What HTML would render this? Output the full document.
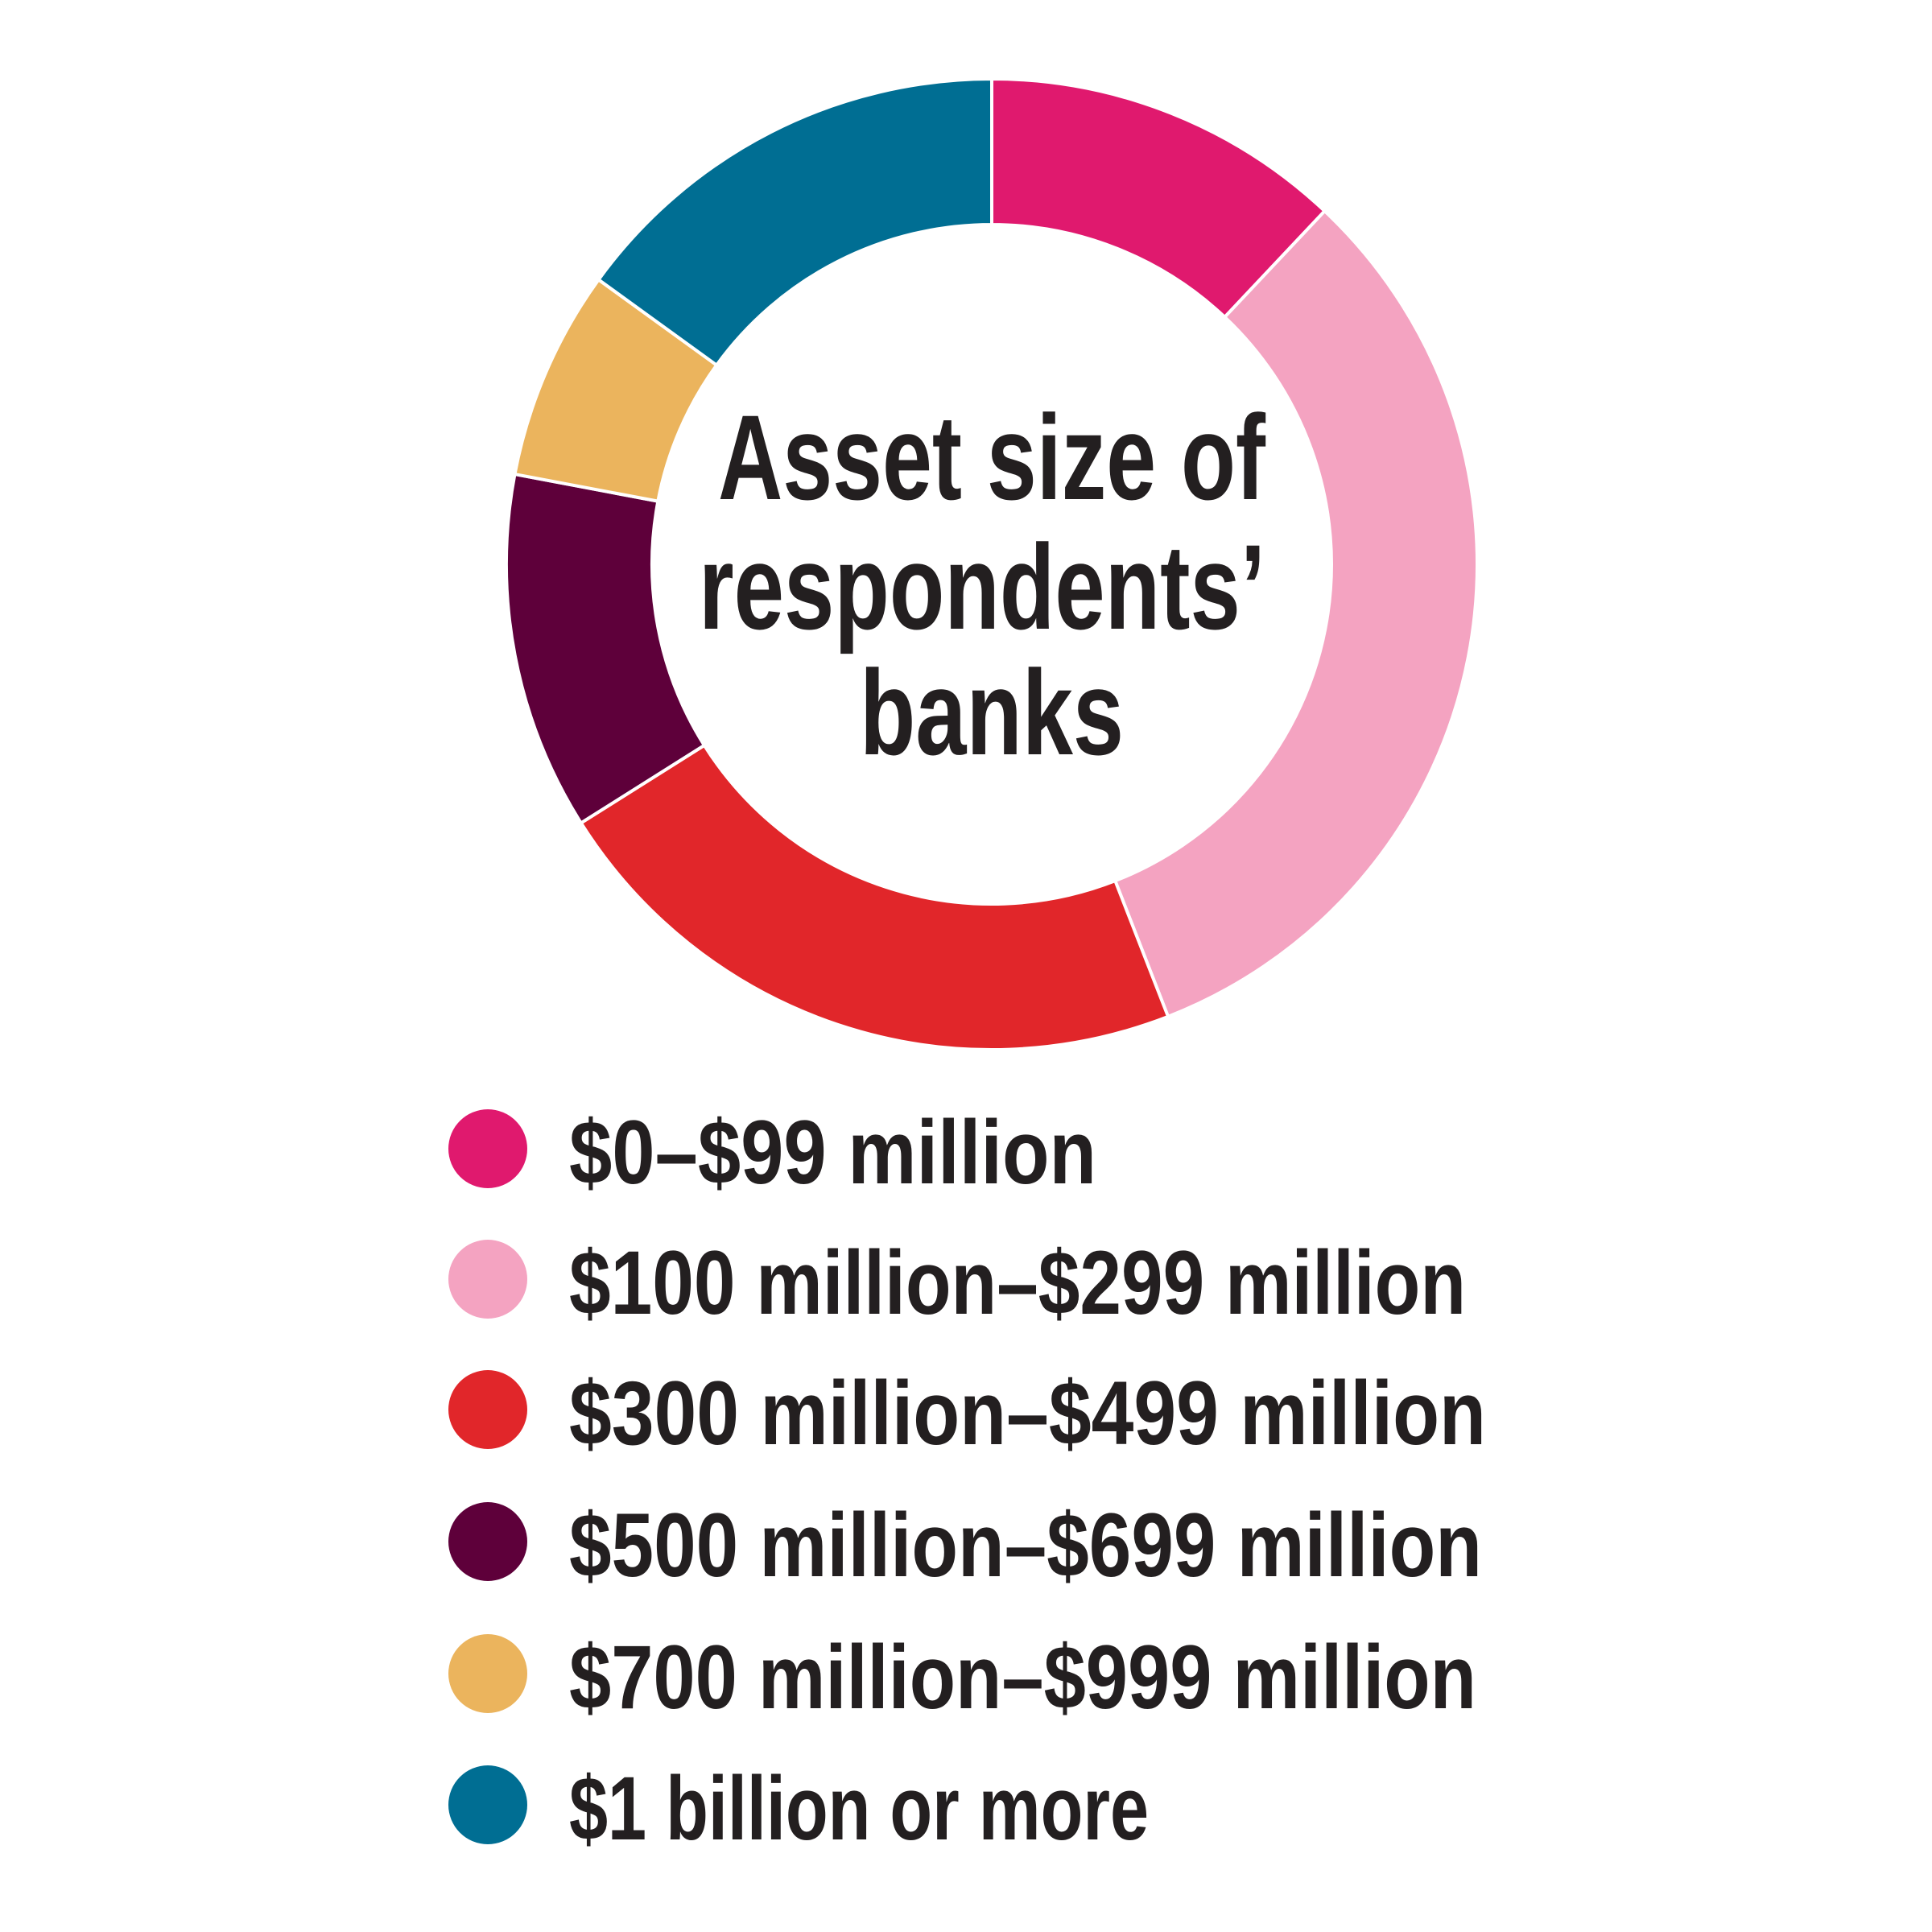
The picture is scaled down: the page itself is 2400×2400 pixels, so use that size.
<!DOCTYPE html>
<html><head><meta charset="utf-8"><style>
html,body{margin:0;padding:0;background:#fff;width:2400px;height:2400px;overflow:hidden}
svg text{font-family:"Liberation Sans",sans-serif;fill:#231f20;font-weight:bold}
</style></head><body>
<svg id="s" width="2400" height="2400" viewBox="0 0 2400 2400">
<g id="ring"></g>
<text x="892" y="620" font-size="150" textLength="680" lengthAdjust="spacingAndGlyphs">Asset size of</text>
<text x="868" y="781" font-size="150" textLength="704" lengthAdjust="spacingAndGlyphs">respondents’</text>
<text x="1068" y="937" font-size="150" textLength="328" lengthAdjust="spacingAndGlyphs">banks</text>
<circle cx="606" cy="1427" r="49" fill="#e0196e"/>
<circle cx="606" cy="1589" r="49" fill="#f4a3c1"/>
<circle cx="606" cy="1751" r="49" fill="#e1262a"/>
<circle cx="606" cy="1915" r="49" fill="#5e003a"/>
<circle cx="606" cy="2079" r="49" fill="#ebb45d"/>
<circle cx="606" cy="2242" r="49" fill="#006e93"/>
<g font-size="112" style="font-weight:bold">
<text x="707" y="1470" textLength="655" lengthAdjust="spacingAndGlyphs">$0–$99 million</text>
<text x="707" y="1632" textLength="1114" lengthAdjust="spacingAndGlyphs">$100 million–$299 million</text>
<text x="707" y="1794" textLength="1139" lengthAdjust="spacingAndGlyphs">$300 million–$499 million</text>
<text x="707" y="1958" textLength="1134" lengthAdjust="spacingAndGlyphs">$500 million–$699 million</text>
<text x="707" y="2122" textLength="1127" lengthAdjust="spacingAndGlyphs">$700 million–$999 million</text>
<text x="707" y="2285" textLength="720" lengthAdjust="spacingAndGlyphs">$1 billion or more</text>
</g>
</svg>
<script>
var cx=1232,cy=701,R=603,r=422;
var b=[0,43.3,158.7,237.8,280.7,305.9,360];
var c=["#e0196e","#f4a3c1","#e1262a","#5e003a","#ebb45d","#006e93"];
function p(a,rad){a=a*Math.PI/180;return [cx+rad*Math.sin(a),cy-rad*Math.cos(a)];}
var g=document.getElementById('ring'),h='';
for(var i=0;i<6;i++){var a0=b[i],a1=b[i+1],l=(a1-a0)>180?1:0;
var A=p(a0,R),B=p(a1,R),C=p(a1,r),D=p(a0,r);
h+='<path d="M'+A+' A'+R+' '+R+' 0 '+l+' 1 '+B+' L'+C+' A'+r+' '+r+' 0 '+l+' 0 '+D+' Z" fill="'+c[i]+'" stroke="#fff" stroke-width="4"/>';}
g.innerHTML=h;
</script>
</body></html>
